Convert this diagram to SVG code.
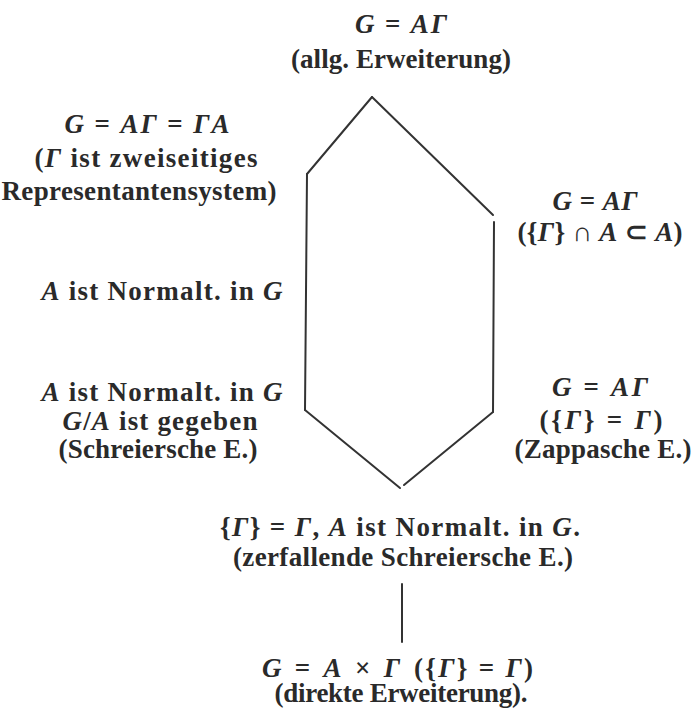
<svg xmlns="http://www.w3.org/2000/svg" width="693" height="708" viewBox="0 0 693 708">
<style>
text{font-family:"Liberation Serif","Times New Roman",serif;font-size:27px;font-weight:bold;fill:#2a2a2a;text-anchor:middle}
.m{font-style:italic}
.s{text-anchor:start}
.e{text-anchor:end}
.ln{stroke:#333;stroke-width:2;fill:none;stroke-linecap:round}
</style>
<rect width="693" height="708" fill="#fff"/>
<g id="connectors">
<line class="ln" x1="372" y1="97" x2="307" y2="174"/>
<line class="ln" x1="307" y1="174" x2="305" y2="410"/>
<line class="ln" x1="305" y1="410" x2="400" y2="488"/>
<line class="ln" x1="404" y1="485" x2="493" y2="412"/>
<line class="ln" x1="494" y1="222" x2="493" y2="412"/>
<line class="ln" x1="372" y1="97" x2="493" y2="215"/>
<line class="ln" x1="402" y1="584" x2="402" y2="642"/>
</g>
<g id="node-top">
<text x="401" y="33" textLength="92" lengthAdjust="spacing"><tspan class="m">G</tspan> = <tspan class="m">AΓ</tspan></text>
<text x="401" y="68" textLength="220" lengthAdjust="spacing">(allg. Erweiterung)</text>
</g>
<g id="node-upper-left">
<text x="147" y="133" textLength="165" lengthAdjust="spacing"><tspan class="m">G</tspan> = <tspan class="m">AΓ</tspan> = <tspan class="m">ΓA</tspan></text>
<text x="146" y="167" textLength="223" lengthAdjust="spacing">(<tspan class="m">Γ</tspan> ist zweiseitiges</text>
<text x="139" y="200" textLength="275" lengthAdjust="spacing">Representantensystem)</text>
</g>
<g id="node-upper-right">
<text x="595" y="210" textLength="85" lengthAdjust="spacing"><tspan class="m">G</tspan> = <tspan class="m">AΓ</tspan></text>
<text x="600" y="241" textLength="165" lengthAdjust="spacing">({<tspan class="m">Γ</tspan>} ∩ <tspan class="m">A</tspan> ⊂ <tspan class="m">A</tspan>)</text>
</g>
<g id="node-mid-left">
<text x="162" y="300" textLength="241" lengthAdjust="spacing"><tspan class="m">A</tspan> ist Normalt. in <tspan class="m">G</tspan></text>
</g>
<g id="node-lower-left">
<text x="162" y="401" textLength="241" lengthAdjust="spacing"><tspan class="m">A</tspan> ist Normalt. in <tspan class="m">G</tspan></text>
<text x="160" y="430" textLength="195" lengthAdjust="spacing"><tspan class="m">G</tspan>/<tspan class="m">A</tspan> ist gegeben</text>
<text x="158" y="458" textLength="199" lengthAdjust="spacing">(Schreiersche E.)</text>
</g>
<g id="node-lower-right">
<text x="600" y="396" textLength="96" lengthAdjust="spacing"><tspan class="m">G</tspan> = <tspan class="m">AΓ</tspan></text>
<text x="601" y="429" textLength="123" lengthAdjust="spacing">({<tspan class="m">Γ</tspan>} = <tspan class="m">Γ</tspan>)</text>
<text x="603" y="458" textLength="177" lengthAdjust="spacing">(Zappasche E.)</text>
</g>
<g id="node-bottom">
<text x="400" y="536" textLength="360" lengthAdjust="spacing">{<tspan class="m">Γ</tspan>} = <tspan class="m">Γ</tspan>, <tspan class="m">A</tspan> ist Normalt. in <tspan class="m">G</tspan>.</text>
<text x="403" y="566" textLength="340" lengthAdjust="spacing">(zerfallende Schreiersche E.)</text>
</g>
<g id="node-direct">
<text class="e" x="400" y="677" textLength="138" lengthAdjust="spacing"><tspan class="m">G</tspan> = <tspan class="m">A</tspan> × <tspan class="m">Γ</tspan></text>
<text class="s" x="414" y="677" textLength="119" lengthAdjust="spacing">({<tspan class="m">Γ</tspan>} = <tspan class="m">Γ</tspan>)</text>
<text x="401" y="702" textLength="253" lengthAdjust="spacing">(direkte Erweiterung).</text>
</g>
</svg>
